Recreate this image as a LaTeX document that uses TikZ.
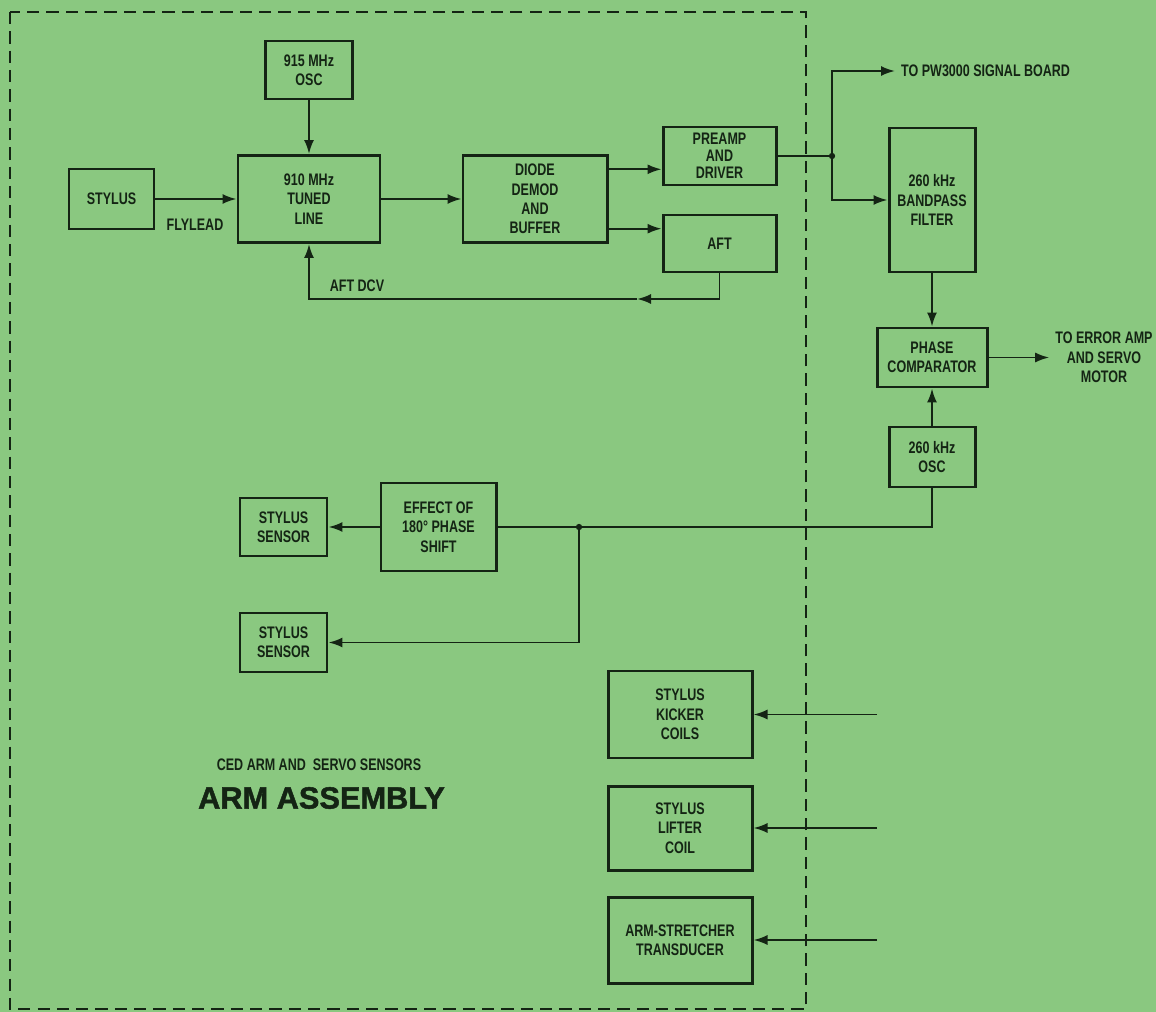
\documentclass[tikz,border=0pt]{standalone}
\usepackage{fontspec}
\setmainfont[FakeStretch=0.75]{Liberation Sans}
\newfontfamily\titlefont[BoldFeatures={FakeBold=1.5}]{Liberation Sans}
\usetikzlibrary{arrows.meta,calc}
\definecolor{paperGreen}{RGB}{138,200,128}
\definecolor{inkColor}{RGB}{20,36,20}

\begin{document}
\begin{tikzpicture}[>={Latex[length=2.8mm,width=2mm]},font=\bfseries\fontsize{9.5}{11}\selectfont,
 block/.style={draw=inkColor,line width=1.7pt,align=center,inner sep=0pt,text=inkColor},
 tight/.style={font=\bfseries\fontsize{9.5}{9.8}\selectfont},
 note/.style={text=inkColor,align=center},
 arrow/.style={->,line width=1.1pt,draw=inkColor},
 wire/.style={line width=1.1pt,draw=inkColor}]
\fill[paperGreen] (0,0) rectangle (23.12,-20.24);
\useasboundingbox (0,0) rectangle (23.12,-20.24);
\draw[inkColor,line width=1.1pt,dash pattern=on 7pt off 4pt] (0.2,-0.24) rectangle (16.12,-20.18);
% arm assembly blocks
\node[block,minimum width=1.74cm,minimum height=1.16cm] (osc915) at (6.18,-1.40) {915 MHz\\OSC};
\node[block,minimum width=2.84cm,minimum height=1.74cm] (tuned) at (6.18,-3.98) {910 MHz\\TUNED\\LINE};
\node[block,minimum width=1.70cm,minimum height=1.20cm] (stylus) at (2.23,-3.98) {STYLUS};
\node[block,minimum width=2.88cm,minimum height=1.74cm] (demod) at (10.70,-3.98) {DIODE\\DEMOD\\AND\\BUFFER};
\node[block,tight,minimum width=2.26cm,minimum height=1.16cm] (preamp) at (14.39,-3.12) {PREAMP\\AND\\DRIVER};
\node[block,minimum width=2.26cm,minimum height=1.14cm] (aft) at (14.39,-4.87) {AFT};
\node[block,minimum width=2.30cm,minimum height=1.76cm] (effect) at (8.77,-10.54) {EFFECT OF\\180° PHASE\\SHIFT};
\node[block,minimum width=1.74cm,minimum height=1.16cm] (sensorA) at (5.67,-10.54) {STYLUS\\SENSOR};
\node[block,minimum width=1.74cm,minimum height=1.18cm] (sensorB) at (5.67,-12.85) {STYLUS\\SENSOR};
\node[block,minimum width=2.88cm,minimum height=1.74cm] (kicker) at (13.60,-14.29) {STYLUS\\KICKER\\COILS};
\node[block,minimum width=2.88cm,minimum height=1.68cm] (lifter) at (13.60,-16.56) {STYLUS\\LIFTER\\COIL};
\node[block,minimum width=2.88cm,minimum height=1.72cm] (stretcher) at (13.60,-18.80) {ARM-STRETCHER\\TRANSDUCER};
% servo side
\node[block,minimum width=1.72cm,minimum height=2.88cm] (bandpass) at (18.64,-4.00) {260 kHz\\BANDPASS\\FILTER};
\node[block,minimum width=2.20cm,minimum height=1.18cm] (phase) at (18.64,-7.15) {PHASE\\COMPARATOR};
\node[block,minimum width=1.72cm,minimum height=1.20cm] (osc260) at (18.64,-9.14) {260 kHz\\OSC};
% labels
\node[note,anchor=west] (pw3000) at (17.90,-1.42) {TO PW3000 SIGNAL BOARD};
\node[note] (errout) at (22.08,-7.15) {TO ERROR AMP\\AND SERVO\\MOTOR};
\node[note] (flylead) at (3.90,-4.50) {FLYLEAD};
\node[note] (aftdcv) at (7.14,-5.72) {AFT DCV};
\node[note] (caption) at (6.38,-15.30) {CED ARM AND\ \ SERVO SENSORS};
\node[note,font=\titlefont\bfseries\fontsize{17.5}{20}\selectfont] (title) at (6.43,-15.96) {ARM ASSEMBLY};
\coordinate (split1) at (16.64,-3.12);
\coordinate (feedback) at (12.74,-5.98);
\coordinate (split2) at (11.58,-10.54);
\coordinate (kickIn) at (17.54,-14.29);
\coordinate (liftIn) at (17.54,-16.56);
\coordinate (stretchIn) at (17.54,-18.80);
% connectors
\draw[arrow] (stylus) -- (tuned);
\draw[arrow] (osc915) -- (tuned);
\draw[arrow] (tuned) -- (demod);
\draw[arrow] ($(demod.north east)!.17!(demod.south east)$) coordinate (d1) -- (d1 -| preamp.west);
\draw[arrow] ($(demod.north east)!.83!(demod.south east)$) coordinate (d2) -- (d2 -| aft.west);
\draw[arrow] (aft.south) |- (feedback);
\draw[arrow] (feedback) -| (tuned.south);
\draw[wire] (preamp.east) -- (split1);
\draw[arrow] (split1) |- (pw3000.west);
\draw[arrow] (split1) |- (bandpass.west);
\draw[arrow] (bandpass) -- (phase);
\draw[arrow] (osc260) -- (phase);
\draw[arrow] (phase) -- (errout.west);
\draw[wire] (osc260.south) |- (effect.east);
\draw[arrow] (effect) -- (sensorA);
\draw[arrow] (split2) |- (sensorB.east);
\fill[inkColor] (split1) circle (1.8pt) (split2) circle (1.8pt);
\draw[arrow] (kickIn) -- (kicker);
\draw[arrow] (liftIn) -- (lifter);
\draw[arrow] (stretchIn) -- (stretcher);
\end{tikzpicture}
\end{document}
